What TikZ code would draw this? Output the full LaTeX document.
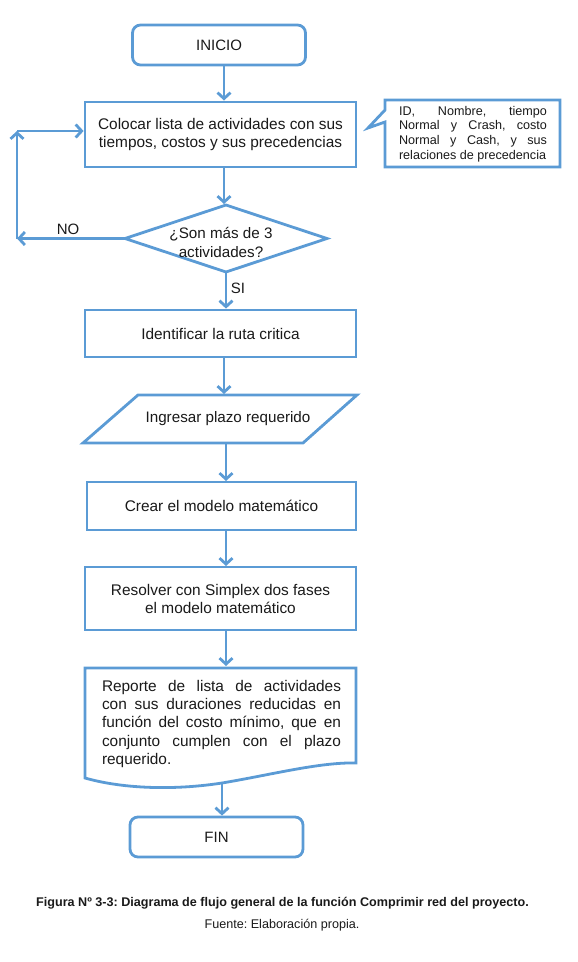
\documentclass[tikz,border=0pt]{standalone}
\usepackage{fontspec}
\setmainfont{Liberation Sans}
\usetikzlibrary{arrows.meta}
\definecolor{flow}{HTML}{5B9BD5}
\definecolor{ink}{HTML}{1A1A1A}
\frenchspacing
\begin{document}
\begin{tikzpicture}[x=1pt,y=-1pt,
 box/.style={draw=flow,line width=2.8pt,fill=white,inner sep=0pt,text=ink,
   font=\fontsize{15.4}{17.5}\selectfont,align=center},
 shapeline/.style={draw=flow,line width=2.8pt,fill=white,line join=miter},
 txt/.style={inner sep=0pt,text=ink},
 link/.style={draw=flow,line width=2.8pt,-{Straight Barb[length=6pt,width=13pt,line width=2.8pt]}}
]
\useasboundingbox (0,0) rectangle (578,962);

% start
\node[box,rounded corners=8pt,minimum width=173pt,minimum height=40pt,font=\fontsize{15}{17}\selectfont] (inicio) at (219,45) {INICIO};
% box 1
\node[box,minimum width=271pt,minimum height=65pt] (box1) at (220.5,134.5)
  {Colocar lista de actividades con sus\\tiempos, costos y sus precedencias};
% callout
\draw[shapeline] (385,100) -- (560,100) -- (560,167) -- (385,167) -- (385,122) -- (368,128) -- (385,110) -- cycle;
\node[txt,text width=148pt,align=justify,font=\fontsize{12.6}{14.6}\selectfont] (note) at (473,134)
  {\hyphenpenalty=10000 ID, Nombre, tiempo\linebreak Normal y Crash, costo\linebreak Normal y Cash, y sus\linebreak relaciones de precedencia};
% decision
\draw[shapeline] (125,238.5) -- (226,205) -- (327,238.5) -- (226,272) -- cycle;
\node[txt,minimum width=202pt,minimum height=67pt] (dec) at (226,238.5) {};
\node[txt,align=center,font=\fontsize{15.2}{18.5}\selectfont] (dectext) at (221,242.5)
  {¿Son más de 3\\actividades?};
% box 2
\node[box,minimum width=271pt,minimum height=47pt] (box2) at (220.5,333.5)
  {Identificar la ruta critica};
% parallelogram
\draw[shapeline] (138,395) -- (357,395) -- (303,443) -- (83,443) -- cycle;
\node[txt,minimum width=274pt,minimum height=48pt] (para) at (220,419)
  {\fontsize{15.2}{17}\selectfont\hspace{16pt}Ingresar plazo requerido};
% box 3
\node[box,minimum width=269pt,minimum height=48pt] (box3) at (221.5,506)
  {Crear el modelo matemático};
% box 4
\node[box,minimum width=271pt,minimum height=63pt,font=\fontsize{15.4}{18}\selectfont] (box4) at (220.5,598.5)
  {Resolver con Simplex dos fases\\el modelo matemático};
% document
\draw[shapeline] (85,668) -- (356,668) -- (356,763)
  .. controls (320,762) and (270,775) .. (222,783)
  .. controls (170,791) and (120,788) .. (85,778) -- cycle;
\node[txt,text width=239pt,align=justify,font=\fontsize{15.4}{18.3}\selectfont] (doc) at (221.5,724)
  {\hyphenpenalty=10000 Reporte de lista de actividades\linebreak con sus duraciones reducidas en\linebreak función del costo mínimo, que en\linebreak conjunto cumplen con el plazo\linebreak requerido.};
\coordinate (docb) at (222,783);
% end
\node[box,rounded corners=8pt,minimum width=173pt,minimum height=40pt,font=\fontsize{15}{17}\selectfont] (fin) at (216.5,837) {FIN};

% connectors
\draw[link] (224,65) -- (224,100.5);
\draw[link] (224,167) -- (224,204);
\draw[link] (dec.south) -- (dec.south |- box2.north);
\draw[link] (224,357) -- (224,394);
\draw[link] (226,443) -- (226,481);
\draw[link] (226,530) -- (226,566);
\draw[link] (226,630) -- (226,666);
\draw[link] (docb) -- (docb |- fin.north);

% loop back
\coordinate (lb) at (17,238.5);
\coordinate (lt) at (17,131);
\draw[link] (dec.west) -- (lb);
\draw[link] (lb) -- (lt);
\draw[link] (lt) -- (lt -| box1.west);

% labels
\node[txt,font=\fontsize{15}{17}\selectfont] (no) at (68,229) {NO};
\node[txt,font=\fontsize{15}{17}\selectfont] (si) at (238,288) {SI};

% caption
\node[txt,font=\bfseries\fontsize{12.6}{15}\selectfont] (cap) at (282.5,903)
  {Figura Nº 3-3: Diagrama de flujo general de la función Comprimir red del proyecto.};
\node[txt,font=\fontsize{12.6}{15}\selectfont] (src) at (282,925) {Fuente: Elaboración propia.};
\end{tikzpicture}
\end{document}
